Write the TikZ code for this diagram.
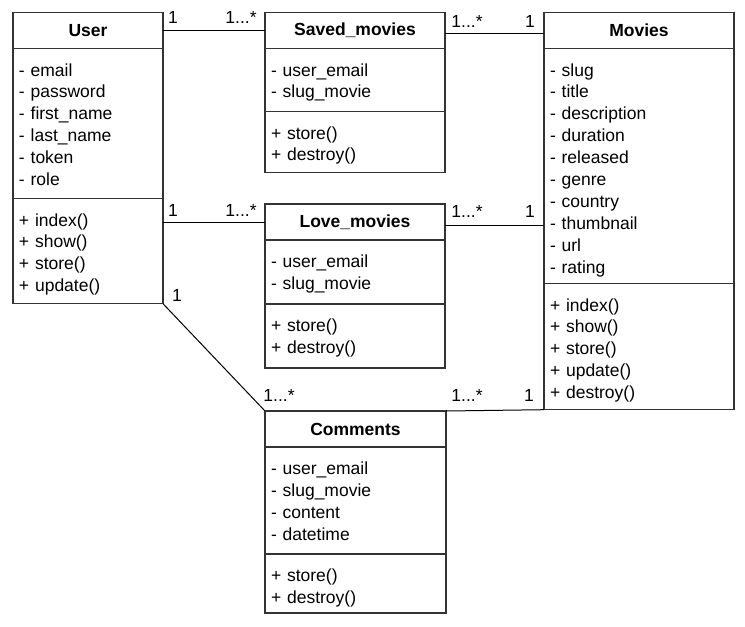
\documentclass[tikz,border=0pt]{standalone}
\usepackage{fontspec}
\newfontfamily\umlfont{Liberation Sans}
\newcommand{\umlsize}{\umlfont\fontsize{17.5pt}{21.9pt}\selectfont}
% compartment of fixed height, members set from its top
\newcommand{\members}[2]{\parbox[c][#1][t]{\linewidth}{\raggedright\rule{0pt}{27.3pt}#2}}
\usetikzlibrary{positioning}

\tikzset{
  box/.style={draw=black!80, line width=1.3pt, outer sep=0pt,
    inner xsep=6pt, inner ysep=0pt, font=\umlsize},
  head/.style={box, font=\umlsize\bfseries, align=center, minimum height=36pt},
  part/.style={box, align=left},
  mult/.style={font=\umlsize, inner sep=0pt},
  link/.style={line width=1pt, black}
}

\begin{document}
\begin{tikzpicture}[x=1pt,y=-1pt]
\useasboundingbox (0,0) rectangle (745,627);

% User
\node[head, text width=138pt, anchor=north west] (userhead) at (13,12.7) {User};
\node[part, text width=138pt, below=0pt of userhead] (userattr)
  {\members{150pt}{- email\\- password\\- first\_name\\- last\_name\\- token\\- role}};
\node[part, text width=138pt, below=0pt of userattr] (usermeth)
  {\members{105pt}{+ index()\\+ show()\\+ store()\\+ update()}};

% Saved_movies
\node[head, text width=168pt, anchor=north west] (savedhead) at (265,12.7) {Saved\_movies};
\node[part, text width=168pt, below=0pt of savedhead] (savedattr)
  {\members{63pt}{- user\_email\\- slug\_movie}};
\node[part, text width=168pt, below=0pt of savedattr] (savedmeth)
  {\members{61pt}{+ store()\\+ destroy()}};

% Love_movies
\node[head, text width=168pt, anchor=north west] (lovehead) at (265,204) {Love\_movies};
\node[part, text width=168pt, below=0pt of lovehead] (loveattr)
  {\members{64pt}{- user\_email\\- slug\_movie}};
\node[part, text width=168pt, below=0pt of loveattr] (lovemeth)
  {\members{64pt}{+ store()\\+ destroy()}};

% Movies
\node[head, text width=178pt, anchor=north west] (movieshead) at (544,12.7) {Movies};
\node[part, text width=178pt, below=0pt of movieshead] (moviesattr)
  {\members{235pt}{- slug\\- title\\- description\\- duration\\- released\\- genre\\- country\\- thumbnail\\- url\\- rating}};
\node[part, text width=178pt, below=0pt of moviesattr] (moviesmeth)
  {\members{126pt}{+ index()\\+ show()\\+ store()\\+ update()\\+ destroy()}};

% Comments
\node[head, text width=169pt, anchor=north west] (commhead) at (265,411) {Comments};
\node[part, text width=169pt, below=0pt of commhead] (commattr)
  {\members{107pt}{- user\_email\\- slug\_movie\\- content\\- datetime}};
\node[part, text width=169pt, below=0pt of commattr] (commmeth)
  {\members{59pt}{+ store()\\+ destroy()}};

% associations
\draw[link] (savedhead.west) -- (savedhead.west -| userhead.east);
\draw[link] ([yshift=-3pt]savedhead.east) -- ([yshift=-3pt]savedhead.east -| movieshead.west);
\draw[link] (lovehead.west) -- (lovehead.west -| userattr.east);
\draw[link] ([yshift=-3pt]lovehead.east) -- ([yshift=-3pt]lovehead.east -| moviesattr.west);
\draw[link] (usermeth.south east) -- (commhead.north west);
\draw[link] (commhead.north east) -- (moviesmeth.south west);

% multiplicities
\node[mult] (mus1) at (173,17) {1};
\node[mult] (mus2) at (241,17) {1...*};
\node[mult] (msm1) at (467,21.5) {1...*};
\node[mult] (msm2) at (530,21.5) {1};
\node[mult] (mul1) at (173,210) {1};
\node[mult] (mul2) at (241,210) {1...*};
\node[mult] (mlm1) at (467,211.5) {1...*};
\node[mult] (mlm2) at (530,211.5) {1};
\node[mult] (muc1) at (177,295) {1};
\node[mult] (muc2) at (279,395) {1...*};
\node[mult] (mcm1) at (467,395) {1...*};
\node[mult] (mcm2) at (529,395) {1};
\end{tikzpicture}
\end{document}
